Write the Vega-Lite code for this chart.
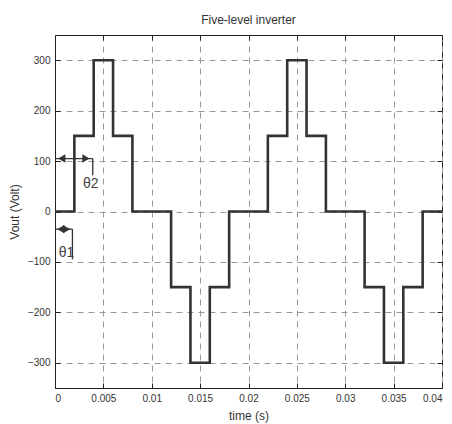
{
  "$schema": "https://vega.github.io/schema/vega-lite/v6.json",
  "width": 387,
  "height": 353,
  "autosize": "none",
  "padding": {"left": 55, "top": 35, "right": 10, "bottom": 36},
  "background": "white",
  "title": {"text": "Five-level inverter", "fontSize": 12, "fontWeight": "normal", "color": "#333", "font": "Liberation Sans", "offset": 8},
  "config": {
    "view": {"stroke": "#222", "strokeWidth": 1},
    "font": "Liberation Sans",
    "axis": {"domainColor": "#222", "tickColor": "#222", "labelColor": "#333", "titleColor": "#333", "labelFontSize": 10, "titleFontSize": 12, "titleFontWeight": "normal", "labelFont": "Liberation Sans", "titleFont": "Liberation Sans"}
  },
  "datasets": {
    "wave": [
      {"t": 0, "v": 0}, {"t": 0.002, "v": 150}, {"t": 0.004, "v": 300}, {"t": 0.006, "v": 150},
      {"t": 0.008, "v": 0}, {"t": 0.012, "v": -150}, {"t": 0.014, "v": -300}, {"t": 0.016, "v": -150},
      {"t": 0.018, "v": 0}, {"t": 0.022, "v": 150}, {"t": 0.024, "v": 300}, {"t": 0.026, "v": 150},
      {"t": 0.028, "v": 0}, {"t": 0.032, "v": -150}, {"t": 0.034, "v": -300}, {"t": 0.036, "v": -150},
      {"t": 0.038, "v": 0}, {"t": 0.04, "v": 0}
    ],
    "segs": [
      {"x1": 0, "x2": 0.0039, "y1": 105, "y2": 105},
      {"x1": 0.0039, "x2": 0.0039, "y1": 105, "y2": 72},
      {"x1": 0, "x2": 0.0018, "y1": -35, "y2": -35},
      {"x1": 0.0018, "x2": 0.0018, "y1": -35, "y2": -95}
    ],
    "heads": [
      {"t": 0.0007, "v": 105, "dir": "left"},
      {"t": 0.0032, "v": 105, "dir": "right"},
      {"t": 0.0006, "v": -35, "dir": "left"},
      {"t": 0.0012, "v": -35, "dir": "right"}
    ],
    "labels": [
      {"t": 0.0037, "v": 54, "text": "θ2"},
      {"t": 0.0012, "v": -82, "text": "θ1"}
    ]
  },
  "layer": [
    {
      "data": {"name": "wave"},
      "mark": {"type": "line", "interpolate": "step-after", "color": "#333", "strokeWidth": 2.6},
      "encoding": {
        "x": {"field": "t", "type": "quantitative", "scale": {"domain": [0, 0.04], "nice": false, "zero": false},
              "axis": {"title": "time (s)", "values": [0, 0.005, 0.01, 0.015, 0.02, 0.025, 0.03, 0.035, 0.04], "format": "~g", "grid": true, "gridDash": [6, 5], "gridColor": "#999", "gridOpacity": 1, "tickSize": -5, "labelPadding": 10, "titlePadding": 7}},
        "y": {"field": "v", "type": "quantitative", "scale": {"domain": [-350, 350], "nice": false, "zero": false},
              "axis": {"title": "Vout (Volt)", "values": [-300, -200, -100, 0, 100, 200, 300], "grid": true, "gridDash": [6, 5], "gridColor": "#999", "gridOpacity": 1, "tickSize": -5, "labelPadding": 10, "titlePadding": 6}}
      }
    },
    {
      "data": {"name": "segs"},
      "mark": {"type": "rule", "color": "#333", "strokeWidth": 1.3},
      "encoding": {
        "x": {"field": "x1", "type": "quantitative", "axis": null},
        "x2": {"field": "x2"},
        "y": {"field": "y1", "type": "quantitative", "axis": null},
        "y2": {"field": "y2"}
      }
    },
    {
      "data": {"name": "heads"},
      "mark": {"type": "point", "filled": true, "color": "#333", "size": 70, "opacity": 1},
      "encoding": {
        "x": {"field": "t", "type": "quantitative", "axis": null},
        "y": {"field": "v", "type": "quantitative", "axis": null},
        "shape": {"field": "dir", "type": "nominal", "scale": {"domain": ["left", "right"], "range": ["triangle-left", "triangle-right"]}, "legend": null}
      }
    },
    {
      "data": {"name": "labels"},
      "mark": {"type": "text", "fontSize": 14, "color": "#444", "font": "Liberation Sans"},
      "encoding": {
        "x": {"field": "t", "type": "quantitative", "axis": null},
        "y": {"field": "v", "type": "quantitative", "axis": null},
        "text": {"field": "text"}
      }
    },
    {
      "data": {"name": "wave"},
      "mark": {"type": "line", "opacity": 0},
      "encoding": {
        "x": {"field": "t", "type": "quantitative", "axis": {"orient": "top", "values": [0, 0.005, 0.01, 0.015, 0.02, 0.025, 0.03, 0.035, 0.04], "labels": false, "title": null, "grid": false, "tickSize": -5, "domain": false}},
        "y": {"field": "v", "type": "quantitative", "axis": {"orient": "right", "values": [-300, -200, -100, 0, 100, 200, 300], "labels": false, "title": null, "grid": false, "tickSize": -5, "domain": false}}
      }
    }
  ],
  "resolve": {"axis": {"x": "independent", "y": "independent"}}
}
